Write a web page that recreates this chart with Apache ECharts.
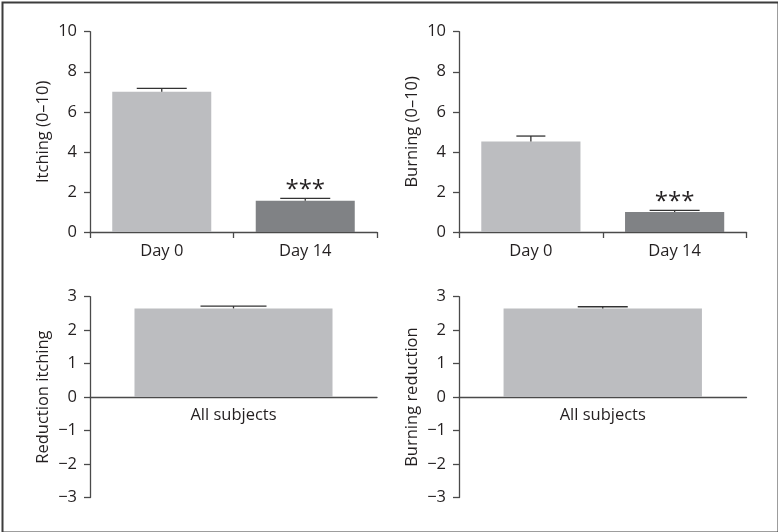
<!DOCTYPE html>
<html><head><meta charset="utf-8">
<script src="https://cdn.jsdelivr.net/npm/echarts@6/dist/echarts.min.js"></script>
<style>html,body{margin:0;padding:0;background:#fff}#c{width:778px;height:532px}</style>
</head><body><div id="c"></div>
<script>
// ---- data ----
const dayCategories = ['Day 0', 'Day 14'];
const itchingMeans = [7.0, 1.56];
const itchingErrors = [0.17, 0.12];
const burningMeans = [4.52, 1.0];
const burningErrors = [0.27, 0.08];
const sigLabels = ['', '***'];
const allCategories = ['All subjects'];
const itchingReduction = [2.65];
const itchingReductionErr = [0.07];
const burningReduction = [2.65];
const burningReductionErr = [0.05];
const panelNames = ['Itching (0\u201310)', 'Burning (0\u201310)', 'Reduction itching', 'Burning reduction'];

// ---- style ----
const FONT = 'Open Sans';
const FS = 16.5;
const TXT = '#231f20';
const AX = '#4a4a4a';
const LIGHT = '#bcbdc0';
const DARK = '#808285';

const grids = [
  {left: 90, width: 287, top: 31.7, height: 200.3},
  {left: 459, width: 287.5, top: 31.7, height: 200.3},
  {left: 90, width: 287, top: 296.7, height: 200.8},
  {left: 459, width: 287.5, top: 296.7, height: 200.8}
];

function fmtMinus(v) { return String(v).replace('-', '\u2212'); }

function xAxisCfg(i, cats, bottom) {
  return {
    type: 'category', gridIndex: i, data: cats,
    axisLine: {onZero: true, lineStyle: {color: AX, width: 1.3}},
    axisTick: {show: !bottom, length: 6, lineStyle: {color: AX, width: 1.3}},
    axisLabel: {show: !bottom, color: TXT, fontFamily: FONT, fontSize: FS, margin: 11}
  };
}
function yAxisCfg(i, min, max, interval) {
  return {
    type: 'value', gridIndex: i, min: min, max: max, interval: interval,
    name: panelNames[i], nameLocation: 'middle', nameGap: 38,
    nameTextStyle: {color: TXT, fontFamily: FONT, fontSize: FS},
    axisLine: {show: true, onZero: false, lineStyle: {color: AX, width: 1.3}},
    axisTick: {show: true, length: 6, lineStyle: {color: AX, width: 1.3}},
    splitLine: {show: false},
    axisLabel: {color: TXT, fontFamily: FONT, fontSize: FS, margin: 13, formatter: fmtMinus}
  };
}

function barSeries(i, vals, colors) {
  return {
    type: 'bar', xAxisIndex: i, yAxisIndex: i, barWidth: '69%',
    data: vals.map((v, k) => ({value: v, itemStyle: {color: colors[k]}})),
    animation: false, silent: true
  };
}
function errSeries(i, vals, errs, capWs, sigs, cats) {
  return {
    type: 'custom', xAxisIndex: i, yAxisIndex: i, animation: false, silent: true, z: 5, clip: false,
    data: vals.map((v, k) => [k, v, errs[k]]),
    renderItem: function (params, api) {
      const x = api.value(0), m = api.value(1), e = api.value(2);
      const capW = capWs[params.dataIndex];
      const p0 = api.coord([x, m]);
      const p1 = api.coord([x, m + e]);
      const st = {stroke: '#333', lineWidth: 1.3};
      const children = [
        {type: 'line', shape: {x1: p0[0], y1: p0[1], x2: p1[0], y2: p1[1]}, style: st},
        {type: 'line', shape: {x1: p1[0] - capW / 2, y1: p1[1], x2: p1[0] + capW / 2, y2: p1[1]}, style: st}
      ];
      const s = sigs ? sigs[params.dataIndex] : '';
      if (s) {
        children.push({type: 'text', x: p1[0], y: p1[1] + 4,
          style: {text: s, align: 'center', verticalAlign: 'bottom', fontSize: 24, fontFamily: FONT, fill: TXT}});
      }
      if (cats) {
        const pz = api.coord([x, 0]);
        children.push({type: 'text', x: pz[0], y: pz[1] + 10,
          style: {text: cats[params.dataIndex], align: 'center', verticalAlign: 'top', fontSize: FS, fontFamily: FONT, fill: TXT}});
      }
      return {type: 'group', children: children};
    }
  };
}

const chart = echarts.init(document.getElementById('c'), null, {renderer: 'canvas'});
chart.setOption({
  backgroundColor: '#fff',
  animation: false,
  grid: grids,
  xAxis: [
    xAxisCfg(0, dayCategories, false),
    xAxisCfg(1, dayCategories, false),
    xAxisCfg(2, allCategories, true),
    xAxisCfg(3, allCategories, true)
  ],
  yAxis: [
    yAxisCfg(0, 0, 10, 2),
    yAxisCfg(1, 0, 10, 2),
    yAxisCfg(2, -3, 3, 1),
    yAxisCfg(3, -3, 3, 1)
  ],
  series: [
    barSeries(0, itchingMeans, [LIGHT, DARK]),
    errSeries(0, itchingMeans, itchingErrors, [50, 50], sigLabels, null),
    barSeries(1, burningMeans, [LIGHT, DARK]),
    errSeries(1, burningMeans, burningErrors, [29, 50], sigLabels, null),
    barSeries(2, itchingReduction, [LIGHT]),
    errSeries(2, itchingReduction, itchingReductionErr, [66], null, allCategories),
    barSeries(3, burningReduction, [LIGHT]),
    errSeries(3, burningReduction, burningReductionErr, [50], null, allCategories)
  ],
  graphic: [{
    type: 'rect', left: 0, top: 0, z: 100, silent: true,
    shape: {x: 1, y: 1, width: 776, height: 530},
    style: {fill: 'none', stroke: '#3c3c3c', lineWidth: 2}
  }]
});
</script>
</body></html>
